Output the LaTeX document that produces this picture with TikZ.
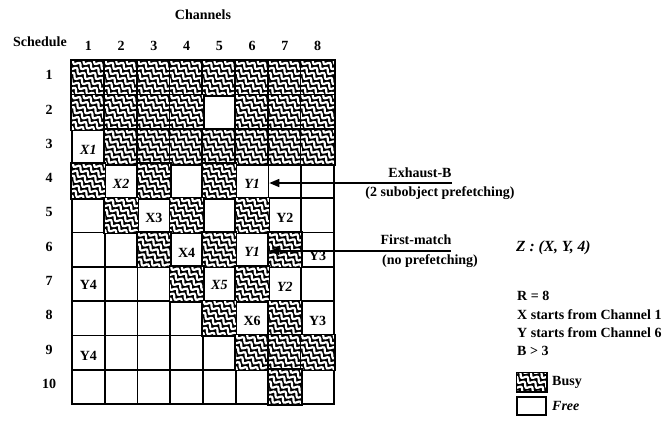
\documentclass[tikz,border=0pt]{standalone}
\usepackage{fontspec}
\setmainfont{Liberation Serif}
\usetikzlibrary{arrows.meta,decorations.pathmorphing}
\tikzset{
  gridcell/.style={draw=black, line width=1.6pt, minimum width=32.75pt, minimum height=34.3pt, inner sep=0pt, fill=white},
  txt/.style={font=\fontsize{14}{16}\selectfont\bfseries, inner sep=0pt},
  itxt/.style={font=\fontsize{14}{16}\selectfont\bfseries\itshape, inner sep=0pt},
  pointer/.style={line width=1.6pt, -{Triangle[length=10pt,width=8pt]}},
  strand/.style={white, line width=2.2pt, decorate, decoration={snake, segment length=9pt, amplitude=2pt}},
  boxline/.style={line width=1.6pt},
}
\newcommand{\hatchbox}[1]{%
  \fill[black] (#1.south west) rectangle (#1.north east);
  \begin{scope}
    \clip (#1.south west) rectangle (#1.north east);
    \foreach \k in {-6,...,6}{
      \draw[strand] ([shift={(\k*10.5-45,-30)}]#1.center) -- ++(90,60);
    }
  \end{scope}
  \draw[boxline] (#1.south west) rectangle (#1.north east);
}
\begin{document}
\begin{tikzpicture}[x=1pt,y=-1pt]
\useasboundingbox (0,0) rectangle (671,421);

% grid cells
\foreach \r in {1,...,10}{
  \foreach \c in {1,...,8}{
    \node[gridcell] (c-\r-\c) at ({72+(\c-0.5)*32.75},{61+(\r-0.5)*34.3}) {};
  }
}
% busy cells
\foreach \r/\c in {1/1,1/2,1/3,1/4,1/5,1/6,1/7,1/8,
                   2/1,2/2,2/3,2/4,2/6,2/7,2/8,
                   3/2,3/3,3/4,3/5,3/6,3/7,3/8,
                   4/1,4/3,4/5,
                   5/2,5/4,5/6,
                   6/3,6/5,6/7,
                   7/4,7/6,
                   8/5,8/7,
                   9/6,9/7,9/8,
                   10/7}{
  \hatchbox{c-\r-\c}
}

% cell labels
\node[itxt] (l31) at ([yshift=-3]c-3-1.center) {X1};
\node[itxt] (l42) at ([yshift=-3]c-4-2.center) {X2};
\node[itxt] (l46) at ([yshift=-3]c-4-6.center) {Y1};
\node[txt]  (l53) at ([yshift=-3]c-5-3.center) {X3};
\node[txt]  (l57) at ([yshift=-3]c-5-7.center) {Y2};
\node[txt]  (l64) at ([yshift=-3]c-6-4.center) {X4};
\node[itxt] (l66) at ([yshift=-2]c-6-6.center) {Y1};
\node[txt]  (l68) at ([yshift=-6]c-6-8.center) {Y3};
\node[txt]  (l71) at ([yshift=-1]c-7-1.center) {Y4};
\node[itxt] (l75) at ([yshift=-1]c-7-5.center) {X5};
\node[itxt] (l77) at ([yshift=-3]c-7-7.center) {Y2};
\node[txt]  (l86) at ([yshift=-3]c-8-6.center) {X6};
\node[txt]  (l88) at ([yshift=-3]c-8-8.center) {Y3};
\node[txt]  (l91) at ([yshift=-3]c-9-1.center) {Y4};

% headers
\node[txt] (channels) at (203,15) {Channels};
\node[txt] (schedule) at (40,42) {Schedule};
\foreach \c in {1,...,8}{
  \node[txt] (h\c) at ({72+(\c-0.5)*32.75},46) {\c};
}
\foreach \r in {1,...,10}{
  \node[txt] (r\r) at (49,{61+(\r-0.5)*34.3-3}) {\r};
}

% arrows and their labels
\coordinate (a1) at (452,183);
\draw[pointer] (a1) -- (a1 -| c-4-6.east);
\node[txt] (exb) at (420,173) {Exhaust-B};
\node[txt] (exb2) at (440,193) {(2 subobject prefetching)};

\coordinate (a2) at (451,251);
\draw[pointer] (a2) -- (a2 -| c-6-6.east);
\node[txt] (fm) at (416,240) {First-match};
\node[txt] (fm2) at (430,261) {(no prefetching)};

% right side text
\node[itxt, font=\fontsize{15.5}{18}\selectfont\bfseries\itshape, anchor=west] (z) at (516,248) {Z : (X, Y, 4)};
\node[txt, anchor=west] (rr) at (517,296) {R = 8};
\node[txt, anchor=west] (xs) at (517,315) {X starts from Channel 1};
\node[txt, anchor=west] (ys) at (517,333) {Y starts from Channel 6};
\node[txt, anchor=west] (bb) at (517,351) {B > 3};

% legend
\node[draw, line width=1.4pt, minimum width=29pt, minimum height=18pt, inner sep=0pt] (busybox) at (531.5,382) {};
\hatchbox{busybox}
\node[txt, anchor=west] (busyl) at (552,382) {Busy};
\node[draw, line width=1.4pt, minimum width=29pt, minimum height=18pt, inner sep=0pt] (freebox) at (531.5,406) {};
\node[itxt, anchor=west] (freel) at (552,406) {Free};
\end{tikzpicture}
\end{document}
